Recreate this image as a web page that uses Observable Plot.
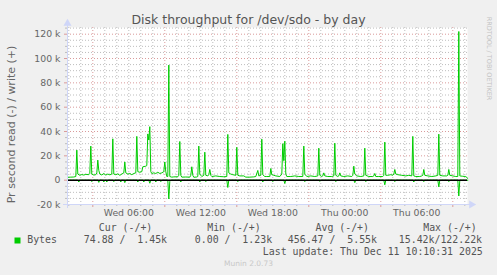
<!DOCTYPE html>
<html><head><meta charset="utf-8">
<script src="https://cdn.jsdelivr.net/npm/d3@7"></script>
<script src="https://cdn.jsdelivr.net/npm/@observablehq/plot@0.6"></script>
<style>
html,body{margin:0;padding:0;background:#f0f0f0;}
svg text{white-space:pre;}
</style></head><body><div id="chart"></div>
<script>
// write (+) bytes per second, in thousands; time "MM-DD HH:MM"
const writeBytes = [
["12-10 00:55",2.4],["12-10 01:10",2.5],["12-10 01:25",2.6],["12-10 01:35",3.0],["12-10 01:40",24.7],["12-10 01:45",5.0],
["12-10 01:55",4.0],["12-10 02:05",4.6],["12-10 02:15",4.2],["12-10 02:25",4.8],["12-10 02:40",4.5],["12-10 02:45",5.5],
["12-10 02:50",28.0],["12-10 02:55",5.0],["12-10 03:05",4.2],["12-10 03:15",4.5],["12-10 03:20",6.0],["12-10 03:25",16.5],
["12-10 03:30",8.0],["12-10 03:35",5.0],["12-10 03:45",4.3],["12-10 03:55",5.5],["12-10 04:05",4.2],["12-10 04:15",5.0],
["12-10 04:25",4.4],["12-10 04:35",5.0],["12-10 04:40",34.0],["12-10 04:45",5.0],["12-10 04:55",4.5],["12-10 05:05",5.2],
["12-10 05:15",4.0],["12-10 05:25",5.0],["12-10 05:35",6.0],["12-10 05:40",15.0],["12-10 05:45",6.0],["12-10 05:55",5.0],
["12-10 06:05",5.5],["12-10 06:15",4.5],["12-10 06:25",5.5],["12-10 06:35",6.0],["12-10 06:40",36.0],["12-10 06:45",7.0],
["12-10 06:55",6.5],["12-10 07:05",7.0],["12-10 07:10",11.0],["12-10 07:25",11.5],["12-10 07:30",12.0],["12-10 07:35",38.0],
["12-10 07:40",33.0],["12-10 07:45",44.0],["12-10 07:50",7.0],["12-10 07:55",5.5],["12-10 08:05",6.0],["12-10 08:15",5.5],
["12-10 08:25",6.5],["12-10 08:35",5.5],["12-10 08:45",6.0],["12-10 08:55",7.0],["12-10 09:00",15.0],["12-10 09:05",7.0],
["12-10 09:10",3.0],["12-10 09:15",3.0],["12-10 09:20",94.6],["12-10 09:25",3.0],["12-10 09:35",2.5],["12-10 09:45",2.7],
["12-10 10:05",2.8],["12-10 10:10",4.0],["12-10 10:15",31.8],["12-10 10:20",4.0],["12-10 10:25",2.5],["12-10 10:45",2.6],
["12-10 11:05",2.5],["12-10 11:10",4.0],["12-10 11:15",11.0],["12-10 11:20",4.0],["12-10 11:25",2.4],["12-10 11:40",2.6],
["12-10 11:45",3.0],["12-10 11:50",28.0],["12-10 11:55",5.0],["12-10 12:05",3.0],["12-10 12:15",4.0],["12-10 12:20",23.0],
["12-10 12:25",4.0],["12-10 12:35",3.5],["12-10 12:40",4.5],["12-10 12:45",8.8],["12-10 12:50",4.0],["12-10 12:55",3.0],
["12-10 13:15",3.5],["12-10 13:35",3.0],["12-10 13:55",2.8],["12-10 14:10",3.0],["12-10 14:15",37.6],["12-10 14:20",6.0],
["12-10 14:30",5.0],["12-10 14:40",4.5],["12-10 14:55",4.0],["12-10 15:00",27.0],["12-10 15:05",4.0],["12-10 15:15",3.5],
["12-10 15:35",3.5],["12-10 15:45",2.5],["12-10 16:05",2.5],["12-10 16:25",2.7],["12-10 16:35",3.0],["12-10 16:45",8.0],
["12-10 16:50",3.5],["12-10 17:00",4.0],["12-10 17:05",33.7],["12-10 17:10",4.5],["12-10 17:20",3.0],["12-10 17:30",3.0],
["12-10 17:45",3.0],["12-10 17:50",9.6],["12-10 17:55",4.5],["12-10 18:05",4.0],["12-10 18:15",3.5],["12-10 18:35",3.0],
["12-10 18:45",5.0],["12-10 18:50",30.0],["12-10 18:55",16.0],["12-10 19:00",32.0],["12-10 19:05",5.0],["12-10 19:10",3.0],
["12-10 19:30",3.0],["12-10 19:50",3.5],["12-10 20:10",3.0],["12-10 20:30",3.0],["12-10 20:35",28.0],["12-10 20:40",5.0],
["12-10 20:50",3.0],["12-10 21:10",3.5],["12-10 21:30",3.0],["12-10 21:45",3.5],["12-10 21:50",26.3],["12-10 21:55",4.0],
["12-10 22:05",3.0],["12-10 22:10",3.5],["12-10 22:15",6.0],["12-10 22:20",3.5],["12-10 22:35",3.0],["12-10 22:55",3.0],
["12-10 23:05",3.5],["12-10 23:10",30.4],["12-10 23:15",4.0],["12-10 23:25",3.0],["12-10 23:30",3.5],["12-10 23:35",6.0],
["12-10 23:40",3.5],["12-10 23:55",3.0],["12-11 00:15",3.5],["12-11 00:35",3.0],["12-11 00:40",4.0],["12-11 00:45",11.5],
["12-11 00:50",5.0],["12-11 01:00",3.5],["12-11 01:20",3.0],["12-11 01:35",3.5],["12-11 01:40",26.3],["12-11 01:45",4.0],
["12-11 02:00",3.0],["12-11 02:20",3.0],["12-11 02:25",3.5],["12-11 02:30",5.5],["12-11 02:35",3.0],["12-11 02:50",3.0],
["12-11 03:10",3.0],["12-11 03:15",4.0],["12-11 03:20",31.3],["12-11 03:25",4.0],["12-11 03:35",4.0],["12-11 03:50",4.5],
["12-11 04:00",4.0],["12-11 04:05",5.0],["12-11 04:10",8.8],["12-11 04:15",5.0],["12-11 04:25",4.5],["12-11 04:45",4.0],
["12-11 05:05",3.5],["12-11 05:20",4.0],["12-11 05:35",3.5],["12-11 05:40",36.0],["12-11 05:45",3.5],["12-11 05:55",3.0],
["12-11 06:15",3.0],["12-11 06:25",3.5],["12-11 06:30",4.0],["12-11 06:35",8.8],["12-11 06:40",4.0],["12-11 06:55",3.5],
["12-11 07:15",3.0],["12-11 07:35",3.5],["12-11 07:45",4.0],["12-11 07:50",37.8],["12-11 07:55",4.0],["12-11 08:10",3.5],
["12-11 08:30",3.5],["12-11 08:35",4.0],["12-11 08:40",8.8],["12-11 08:45",4.0],["12-11 09:00",3.5],["12-11 09:15",3.0],
["12-11 09:25",3.0],["12-11 09:30",122.2],["12-11 09:35",3.5],["12-11 09:50",3.2],["12-11 10:05",3.0],["12-11 10:15",1.45]
];
// read (-) bytes per second, in thousands, drawn negative
const readBytes = [
["12-10 00:55",0],["12-10 01:45",0],["12-10 01:50",-1.5],["12-10 01:55",0],
["12-10 02:50",0],["12-10 02:55",-1.2],["12-10 03:00",0],
["12-10 03:25",0],["12-10 03:30",-1.8],["12-10 03:35",0],
["12-10 03:50",0],["12-10 03:55",-1.5],["12-10 04:00",0],
["12-10 04:05",0],["12-10 04:10",-1.5],["12-10 04:15",0],
["12-10 04:40",0],["12-10 04:45",-1.2],["12-10 04:50",0],
["12-10 05:15",0],["12-10 05:20",-1.5],["12-10 05:25",0],
["12-10 05:35",0],["12-10 05:40",-2.0],["12-10 05:45",0],
["12-10 06:40",0],["12-10 06:45",-1.5],["12-10 06:50",0],
["12-10 07:10",0],["12-10 07:15",-1.5],["12-10 07:20",0],
["12-10 07:40",0],["12-10 07:45",-2.5],["12-10 07:50",0],
["12-10 08:10",0],["12-10 08:15",-1.5],["12-10 08:20",0],
["12-10 08:35",0],["12-10 08:40",-1.2],["12-10 08:45",0],
["12-10 09:15",0],["12-10 09:20",-15.42],["12-10 09:25",-1.0],["12-10 09:30",0],
["12-10 10:15",0],["12-10 10:20",-1.5],["12-10 10:25",0],
["12-10 11:50",0],["12-10 11:55",-1.5],["12-10 12:00",0],
["12-10 12:20",0],["12-10 12:25",-1.2],["12-10 12:30",0],
["12-10 14:10",0],["12-10 14:15",-6.0],["12-10 14:20",0],
["12-10 15:00",0],["12-10 15:05",-1.2],["12-10 15:10",0],
["12-10 17:05",0],["12-10 17:10",-1.5],["12-10 17:15",0],
["12-10 17:55",0],["12-10 18:00",-1.2],["12-10 18:05",0],
["12-10 18:55",0],["12-10 19:00",-2.7],["12-10 19:05",0],
["12-10 20:35",0],["12-10 20:40",-1.2],["12-10 20:45",0],
["12-10 21:50",0],["12-10 21:55",-1.0],["12-10 22:00",0],
["12-10 23:10",0],["12-10 23:15",-1.2],["12-10 23:20",0],
["12-11 00:45",0],["12-11 00:50",-2.0],["12-11 00:55",0],
["12-11 01:40",0],["12-11 01:45",-1.2],["12-11 01:50",0],
["12-11 03:15",0],["12-11 03:20",-3.8],["12-11 03:25",0],
["12-11 04:05",0],["12-11 04:10",-1.2],["12-11 04:15",0],
["12-11 05:40",0],["12-11 05:45",-1.5],["12-11 05:50",0],
["12-11 06:30",0],["12-11 06:35",-1.2],["12-11 06:40",0],
["12-11 07:45",0],["12-11 07:50",-5.5],["12-11 07:55",0],
["12-11 08:35",0],["12-11 08:40",-1.2],["12-11 08:45",0],
["12-11 09:25",0],["12-11 09:30",-13.0],["12-11 09:35",0],
["12-11 10:15",-0.07]
];
const yMajorTicks = [-20, 0, 20, 40, 60, 80, 100, 120];
const yMinorTicks = [-15,-10,-5,5,10,15,25,30,35,45,50,55,65,70,75,85,90,95,105,110,115,125];
const xLabelTimes = ["12-10 06:00","12-10 12:00","12-10 18:00","12-11 00:00","12-11 06:00"];
const xMajorGridTimes = ["12-10 03:00","12-10 09:00","12-10 15:00","12-10 21:00","12-11 03:00","12-11 09:00"];
const titleText = "Disk throughput for /dev/sdo - by day";
const yLabelText = "Pr second read (-) / write (+)";
const legendName = "Bytes";
const legendHeaders = ["Cur (-/+)","Min (-/+)","Avg (-/+)","Max (-/+)"];
const legendValues = ["74.88 /  1.45k","0.00 /  1.23k","456.47 /  5.55k","15.42k/122.22k"];
const lastUpdate = "Last update: Thu Dec 11 10:10:31 2025";
const footer = "Munin 2.0.73";
const watermark = "RRDTOOL / TOBI OETIKER";

const parse = s => new Date(2025, +s.slice(0,2) - 1, +s.slice(3,5), +s.slice(6,8), +s.slice(9,11));
const start = new Date(2025, 11, 10, 0, 53, 30);
const end = new Date(2025, 11, 11, 10, 13, 30);
const majorSet = new Set(xMajorGridTimes.map(s => +parse(s)));
const hours = d3.timeHour.range(start, end);
const minorHours = hours.filter(d => !majorSet.has(+d));

const ML = 67, MT = 27, MR = 30, MB = 71;
const font = "DejaVu Sans", mono = "DejaVu Sans Mono", fontColor = "#666666";
const gridColor = "#bdbdbd", mgridColor = "#d99a9a", axisColor = "#CFD6F8";
const lineColor = "#00cc00";
// absolute-position text helper (layout only)
const label = (str, x, y, o = {}) => Plot.text([str], {frameAnchor: "top-left", dx: x - ML, dy: y - MT, text: d => d, lineAnchor: "middle", fill: fontColor, fontFamily: font, ...o});

const chart = Plot.plot({
  width: 497, height: 275,
  marginLeft: ML, marginTop: MT, marginRight: MR, marginBottom: MB,
  style: {background: "#f0f0f0", fontFamily: font, color: fontColor, overflow: "visible"},
  x: {type: "time", domain: [start, end], axis: null},
  y: {domain: [-20, 125.5], axis: null},
  marks: [
    Plot.frame({fill: "white", stroke: null}),
    Plot.ruleX(minorHours, {stroke: gridColor, strokeDasharray: "1,2"}),
    Plot.ruleY(yMinorTicks.filter(d => d < 125.5), {stroke: gridColor, strokeDasharray: "1,2"}),
    Plot.ruleX(xMajorGridTimes.map(parse), {stroke: mgridColor, strokeDasharray: "1,2"}),
    Plot.ruleY(yMajorTicks, {stroke: mgridColor, strokeDasharray: "1,2"}),
    // axis ticks
    Plot.axisX(minorHours, {tickSize: 2, text: null, stroke: gridColor}),
    Plot.axisX(xMajorGridTimes.map(parse), {tickSize: 3, text: null, stroke: mgridColor}),
    Plot.axisX(xLabelTimes.map(parse), {tickSize: 0, tickPadding: 5, tickFormat: d3.timeFormat("%a %H:%M"), fontSize: 9.33, fill: fontColor, fontFamily: font}),
    Plot.axisY(yMinorTicks.filter(d => d < 125.5), {tickSize: 2, text: null, stroke: gridColor}),
    Plot.axisY(yMajorTicks, {tickSize: 3, tickPadding: 4, stroke: mgridColor, tickFormat: d => d === 0 ? "0" : `${d} k`, fontSize: 9.33, fill: fontColor, fontFamily: font}),
    // data
    Plot.line(readBytes, {x: d => parse(d[0]), y: d => d[1], stroke: lineColor, strokeWidth: 1}),
    Plot.line(writeBytes, {x: d => parse(d[0]), y: d => d[1], stroke: lineColor, strokeWidth: 1}),
    Plot.ruleY([0], {stroke: "black", strokeWidth: 1.5}),
    // axis lines + arrows
    Plot.ruleY([-20], {stroke: axisColor, insetLeft: -4, insetRight: -3}),
    Plot.ruleX([start], {stroke: axisColor, insetTop: -3, insetBottom: -4}),
    Plot.dot([0], {frameAnchor: "bottom-right", dx: 4, symbol: "triangle", rotate: 90, r: 3, fill: axisColor, stroke: null}),
    Plot.dot([0], {frameAnchor: "top-left", dy: -4, symbol: "triangle", r: 3, fill: axisColor, stroke: null}),
    // title & labels
    label(titleText, 248, 19.5, {textAnchor: "middle", fontSize: 12.5, fill: "#555"}),
    label(yLabelText, 11, 124, {textAnchor: "middle", rotate: -90, fontSize: 11}),
    label(watermark, 488.5, 58, {textAnchor: "middle", rotate: 90, fontSize: 6.5, fill: "#c4c4c4"}),
    // legend
    Plot.dot([0], {frameAnchor: "top-left", dx: 17 - ML, dy: 240 - MT, symbol: "square", r: 3.39, fill: lineColor, stroke: null}),
    label(legendName, 26.7, 239.7, {fontFamily: mono, fontSize: 9.9, fill: "#555"}),
    ...legendHeaders.map((h, i) => label(h, [98.3, 206.7, 315, 422.7][i], 227.3, {fontFamily: mono, fontSize: 9.9, fill: "#555"})),
    ...legendValues.map((v, i) => label(v, [83.3, 194.3, 287.3, 398.3][i], 239.7, {fontFamily: mono, fontSize: 9.9, fill: "#555"})),
    label(lastUpdate, 482.3, 251.7, {textAnchor: "end", fontFamily: mono, fontSize: 9.9, fill: "#555"}),
    label(footer, 248, 263.3, {textAnchor: "middle", fontSize: 7.5, fill: "#c8c8c8"})
  ]
});
document.getElementById("chart").appendChild(chart);
</script></body></html>
